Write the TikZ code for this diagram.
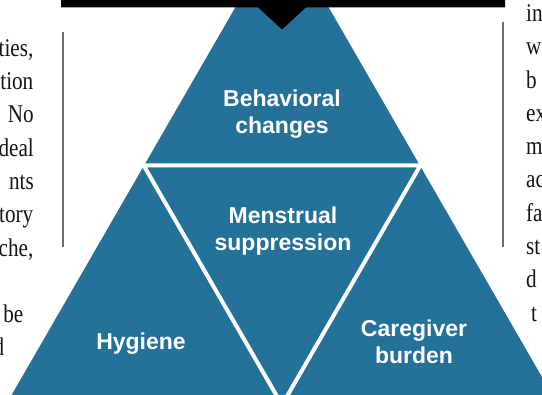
\documentclass[tikz,border=0pt]{standalone}
\usepackage{fontspec}
\setmainfont{Liberation Serif}
\newfontfamily\labelfont{Liberation Sans}
\definecolor{triblue}{RGB}{36,114,153}
\definecolor{rulegray}{RGB}{110,110,110}
\definecolor{bodyink}{RGB}{20,20,20}
\newcommand{\bodytxt}[1]{\scalebox{0.83}[1]{#1}}
\begin{document}
\begin{tikzpicture}[x=1pt,y=-1pt,
  lbl/.style={text=white,font=\labelfont\bfseries\fontsize{23}{27}\selectfont,align=center,inner sep=0pt},
  bodyL/.style={text=bodyink,font=\fontsize{25.5}{33}\selectfont,inner sep=0pt,anchor=base east},
  bodyR/.style={text=bodyink,font=\fontsize{25.5}{33}\selectfont,inner sep=0pt,anchor=base west},
  sidegray/.style={draw=rulegray,line width=1.1pt},
  gap/.style={draw=white,line width=4pt,line join=miter}]
\useasboundingbox (0,0) rectangle (542,395);
\clip (0,0) rectangle (542,395);
% big triangle
\coordinate (apex) at (282,-73.5);
\coordinate (bl) at (282-284.8,420);
\coordinate (br) at (282+284.8,420);
\fill[triblue] (apex) -- (bl) -- (br) -- cycle;
% inner inverted triangle (white gaps)
\coordinate (itl) at (282-138.3,165.5);
\coordinate (itr) at (282+138.3,165.5);
\coordinate (ib) at (282,405);
\draw[gap] (itl) -- (itr) -- (ib) -- cycle;
% black bar with notch
\fill[black] (61,0) -- (505,0) -- (505,7.3) -- (306,7.3) -- (282,29.5) -- (258,7.3) -- (61,7.3) -- cycle;
% side rules
\coordinate (lr1) at (63,32); \coordinate (lr2) at (63,247);
\coordinate (rr1) at (503,22); \coordinate (rr2) at (503,247);
\draw[sidegray] (lr1) -- (lr2);
\draw[sidegray] (rr1) -- (rr2);
% labels
\node[lbl] (behav) at (282,114.5) {Behavioral\\changes};
\node[lbl] (mens) at (283,231.5) {Menstrual\\suppression};
\node[lbl] (hyg) at (141,344) {Hygiene};
\node[lbl] (care) at (414,342) {Caregiver\\burden};
% left column text fragments
\node[bodyL] (l1) at (33.5,56.3) {\bodytxt{ties,}};
\node[bodyL] (l2) at (33.5,89.6) {\bodytxt{tion}};
\node[bodyL] (l3) at (34,122.9) {\bodytxt{No}};
\node[bodyL] (l4) at (34,156.2) {\bodytxt{deal}};
\node[bodyL] (l5) at (34,189.5) {\bodytxt{nts}};
\node[bodyL] (l6) at (33.5,222.8) {\bodytxt{tory}};
\node[bodyL] (l7) at (33.5,256.1) {\bodytxt{che,}};
\node[bodyL] (l8) at (23.5,322.7) {\bodytxt{be}};
\node[bodyL] (l9) at (4.5,356) {\bodytxt{d}};
% right column text fragments
\node[bodyR] (r1) at (526,21.5) {\bodytxt{in}};
\node[bodyR] (r2) at (526,54.8) {\bodytxt{w}};
\node[bodyR] (r3) at (526,88.1) {\bodytxt{b}};
\node[bodyR] (r4) at (526,121.4) {\bodytxt{ex}};
\node[bodyR] (r5) at (526,154.7) {\bodytxt{m}};
\node[bodyR] (r6) at (526,188) {\bodytxt{ac}};
\node[bodyR] (r7) at (526,221.3) {\bodytxt{fa}};
\node[bodyR] (r8) at (526,254.6) {\bodytxt{st}};
\node[bodyR] (r9) at (526,287.9) {\bodytxt{d}};
\node[bodyR] (r10) at (531,321.2) {\bodytxt{t}};
\end{tikzpicture}
\end{document}
